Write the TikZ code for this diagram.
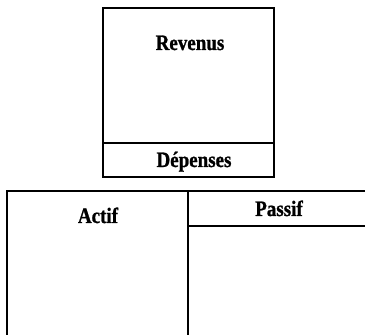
\documentclass[tikz,border=0pt]{standalone}
\usepackage{fontspec}
\setmainfont[BoldFeatures={FakeBold=1.2}]{Liberation Serif}
\begin{document}
\begin{tikzpicture}[x=1pt,y=1pt,
  frame/.style={line width=2pt, line cap=rect},
  label/.style={font=\fontsize{20}{22}\selectfont\bfseries, anchor=base, inner sep=0pt}]
\useasboundingbox (0,0) rectangle (365,335);
% top box
\coordinate (tl) at (103,327);
\coordinate (br) at (274,158);
\coordinate (dl) at (103,192);
\coordinate (dr) at (274,192);
\draw[frame] (tl) rectangle (br);
\draw[frame] (dl) -- (dr);
\node[label] (rev) at (190,285) {\scalebox{0.95}[1.1]{Revenus}};
\node[label] (dep) at (194,168) {\scalebox{0.95}[1.1]{Dépenses}};
% bottom T-account
\coordinate (bl) at (7,144);
\coordinate (bend) at (366,144);
\coordinate (blb) at (7,-2);
\coordinate (mt) at (188,144);
\coordinate (mb) at (188,-2);
\coordinate (pl) at (188,109);
\coordinate (pr) at (366,109);
\draw[frame] (bend) -- (bl) -- (blb);
\draw[frame] (mt) -- (mb);
\draw[frame] (pl) -- (pr);
\node[label] (act) at (98,112) {\scalebox{0.95}[1.1]{Actif}};
\node[label] (pas) at (279,119) {\scalebox{0.95}[1.1]{Passif}};
\end{tikzpicture}
\end{document}
